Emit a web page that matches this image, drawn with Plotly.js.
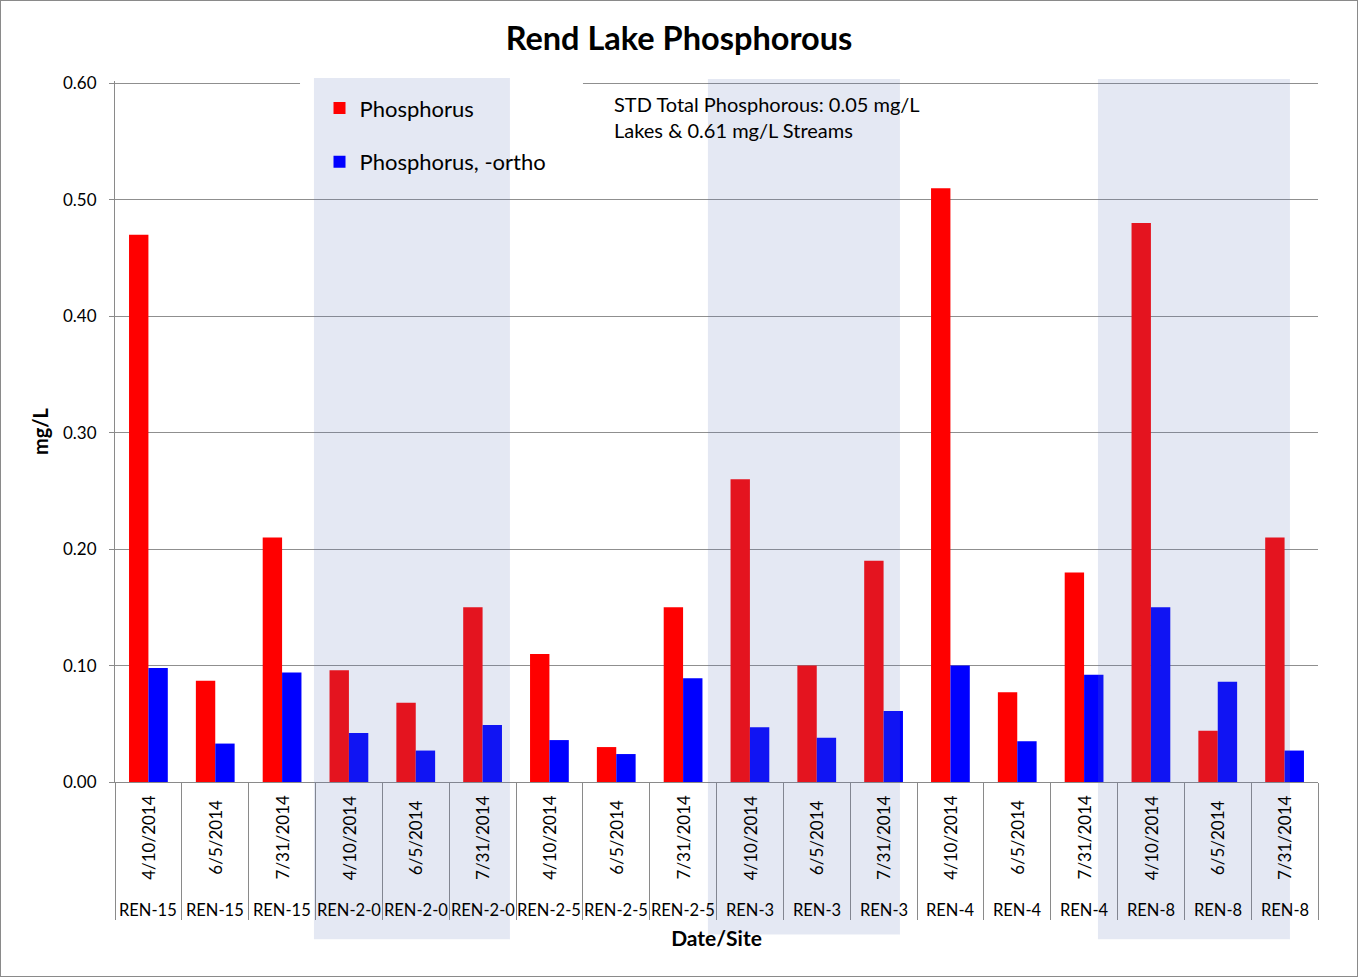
<!DOCTYPE html>
<html>
<head>
<meta charset="utf-8">
<script src="https://cdn.plot.ly/plotly-3.0.1.min.js"></script>
<style>
  html, body { margin: 0; padding: 0; background: #fff; }
  #chart { width: 1358px; height: 977px; box-sizing: border-box; border: 1px solid #8a8a8a; }
</style>
</head>
<body>
<div id="chart"></div>
<script>
// ---- data ----
const sites = ['REN-15','REN-15','REN-15','REN-2-0','REN-2-0','REN-2-0','REN-2-5','REN-2-5','REN-2-5',
               'REN-3','REN-3','REN-3','REN-4','REN-4','REN-4','REN-8','REN-8','REN-8'];
const dates = ['4/10/2014','6/5/2014','7/31/2014','4/10/2014','6/5/2014','7/31/2014',
               '4/10/2014','6/5/2014','7/31/2014','4/10/2014','6/5/2014','7/31/2014',
               '4/10/2014','6/5/2014','7/31/2014','4/10/2014','6/5/2014','7/31/2014'];
const phosphorus = [0.47, 0.087, 0.21, 0.096, 0.068, 0.15, 0.11, 0.03, 0.15,
                    0.26, 0.10, 0.19, 0.51, 0.077, 0.18, 0.48, 0.044, 0.21];
const orthoPhosphorus = [0.098, 0.033, 0.094, 0.042, 0.027, 0.049, 0.036, 0.024, 0.089,
                         0.047, 0.038, 0.061, 0.10, 0.035, 0.092, 0.15, 0.086, 0.027];
const seriesNames = ['Phosphorus', 'Phosphorus, -ortho'];
const yTickVals = [0, 0.1, 0.2, 0.3, 0.4, 0.5, 0.6];
const noteText = 'STD Total Phosphorous: 0.05 mg/L<br>Lakes & 0.61 mg/L Streams';

// ---- build ----
const idx = dates.map((_, i) => i);
const boundaries = dates.concat(['']).map((_, i) => i - 0.5);
const FONT = 'Lato, "Open Sans", sans-serif';

const traces = [
  { type: 'bar', name: seriesNames[0], x: idx, y: phosphorus, legendgroup: 'a',
    marker: { color: '#ff0000', line: { width: 0 } }, hoverinfo: 'skip' },
  { type: 'bar', name: seriesNames[1], x: idx, y: orthoPhosphorus, legendgroup: 'b',
    marker: { color: '#0000ff', line: { width: 0 } }, hoverinfo: 'skip' }
];

const annotations = [];
idx.forEach(i => {
  annotations.push({ xref: 'x', yref: 'paper', x: i, y: -0.079, text: dates[i], textangle: -90,
    showarrow: false, xanchor: 'center', yanchor: 'middle', font: { family: FONT, size: 17, color: '#000' } });
  annotations.push({ xref: 'x', yref: 'paper', x: i, y: -0.1825, text: sites[i],
    showarrow: false, xanchor: 'center', yanchor: 'middle', font: { family: FONT, size: 16.5, color: '#000' } });
});
annotations.push({ xref: 'paper', yref: 'paper', x: 0.413, y: 0.987, xanchor: 'left', yanchor: 'top',
  align: 'left', showarrow: false, text: noteText, font: { family: FONT, size: 20, color: '#000' } });

const shade = 'rgba(97,118,181,0.17)';
const shapes = [
  // white legend box interrupting the top gridline
  { type: 'rect', xref: 'paper', yref: 'paper', x0: 0.1538, x1: 0.389, y0: 0.985, y1: 1.003,
    fillcolor: '#ffffff', line: { width: 0 }, layer: 'above' },
  { type: 'rect', xref: 'paper', yref: 'paper', x0: 0.1654, x1: 0.3283, y0: -0.2245, y1: 1.0043,
    fillcolor: shade, line: { width: 0 }, layer: 'above' },
  { type: 'rect', xref: 'paper', yref: 'paper', x0: 0.4929, x1: 0.6525, y0: -0.2174, y1: 1.0029,
    fillcolor: shade, line: { width: 0 }, layer: 'above' },
  { type: 'rect', xref: 'paper', yref: 'paper', x0: 0.8171, x1: 0.9767, y0: -0.2245, y1: 1.0029,
    fillcolor: shade, line: { width: 0 }, layer: 'above' }
];

const layout = {
  width: 1356, height: 975,
  margin: { l: 114, r: 39, t: 80, b: 194, pad: 0 },
  paper_bgcolor: '#ffffff', plot_bgcolor: '#ffffff',
  font: { family: FONT, color: '#000' },
  title: { text: '<b>Rend Lake Phosphorous</b>', font: { family: FONT, size: 32.5, color: '#000' },
           x: 0.5, xanchor: 'center', y: 0.961, yanchor: 'middle', yref: 'container' },
  barmode: 'group', bargap: 0.42, bargroupgap: 0,
  showlegend: true,
  legend: { x: 0.17, xanchor: 'left', y: 0.991, yanchor: 'top', bgcolor: 'rgba(0,0,0,0)',
            font: { family: FONT, size: 22, color: '#000' }, traceorder: 'grouped', tracegroupgap: 22 },
  xaxis: { type: 'linear', range: [-0.5, 17.5], tickvals: boundaries, ticktext: boundaries.map(() => ''),
           ticks: 'outside', ticklen: 137, tickcolor: '#8a8a8a', tickwidth: 1,
           showline: true, linecolor: '#8a8a8a', linewidth: 1, showgrid: false, zeroline: false,
           fixedrange: true,
           title: { text: '<b>Date/Site</b>', font: { family: FONT, size: 21, color: '#000' }, standoff: 9 } },
  yaxis: { range: [0, 0.602], tickvals: yTickVals, tickformat: '.2f',
           ticks: 'outside', ticklen: 5, tickcolor: '#8a8a8a', showline: true, linecolor: '#8a8a8a',
           showgrid: true, gridcolor: '#8f8f8f', gridwidth: 1, zeroline: false,
           tickfont: { family: FONT, size: 17, color: '#000' }, ticklabelstandoff: 9,
           title: { text: '<b>mg/L</b>', font: { family: FONT, size: 20, color: '#000' }, standoff: 9 } },
  shapes: shapes,
  annotations: annotations
};

Plotly.newPlot('chart', traces, layout, { displayModeBar: false, staticPlot: true });
</script>
</body>
</html>
